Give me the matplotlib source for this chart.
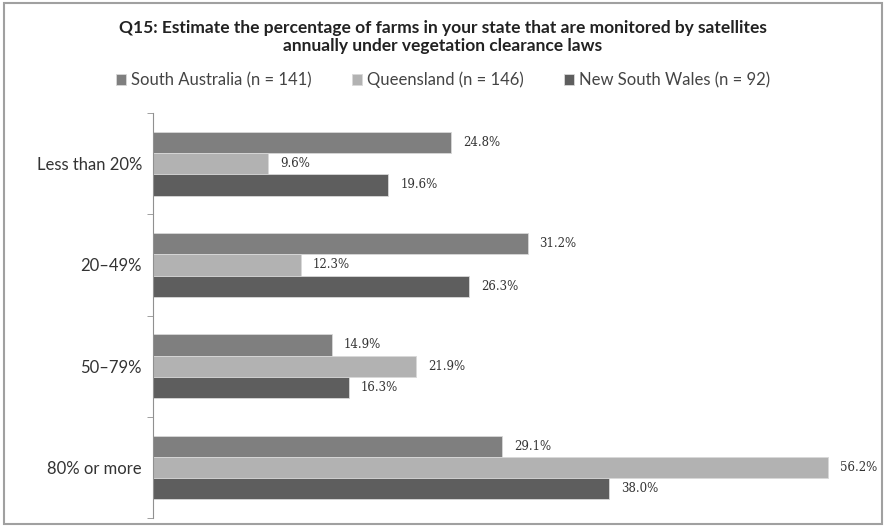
import matplotlib
matplotlib.use("Agg")
import matplotlib.pyplot as plt
import numpy as np
from matplotlib.patches import Rectangle

categories = ["Less than 20%", "20\u201349%", "50\u201379%", "80% or more"]
series_names = ["South Australia (n = 141)", "Queensland (n = 146)", "New South Wales (n = 92)"]
south_australia = [24.8, 31.2, 14.9, 29.1]
queensland = [9.6, 12.3, 21.9, 56.2]
new_south_wales = [19.6, 26.3, 16.3, 38.0]
colors = ["#7f7f7f", "#b2b2b2", "#5e5e5e"]

plt.rcParams["font.family"] = ["Lato", "DejaVu Sans"]

fig = plt.figure(figsize=(8.86, 5.26), dpi=100)
fig.patches.append(Rectangle((0.004, 0.004), 0.992, 0.99, transform=fig.transFigure,
                             fill=False, edgecolor="#a0a0a0", linewidth=1.5))
ax = fig.add_axes([0.1727, 0.015, 0.817, 0.77])

y = np.arange(len(categories))
h = 0.21
all_series = [south_australia, queensland, new_south_wales]
for i, (vals, name, c) in enumerate(zip(all_series, series_names, colors)):
    pos = y + (i - 1) * h
    bars = ax.barh(pos, vals, height=h, color=c, label=name,
                   edgecolor="#d8d8d8", linewidth=0.6)
    for b, v in zip(bars, vals):
        ax.text(b.get_width() + 1.0, b.get_y() + h / 2, f"{v:.1f}%",
                va="center", ha="left", fontsize=8.5, color="#333333",
                fontfamily="DejaVu Serif")

ax.set_xlim(0, 60.3)
ax.set_ylim(len(categories) - 0.5, -0.5)
ax.set_xticks([])
ax.set_yticks(y)
ax.set_yticklabels(categories, fontsize=12, color="#333333")
ax.tick_params(axis="y", which="major", length=0, pad=8)
ax.set_yticks(np.arange(-0.5, len(categories)), minor=True)
ax.tick_params(axis="y", which="minor", length=4, color="#909090")
for s in ["top", "right", "bottom"]:
    ax.spines[s].set_visible(False)
ax.spines["left"].set_color("#909090")

fig.text(0.5, 0.929, "Q15: Estimate the percentage of farms in your state that are monitored by satellites\nannually under vegetation clearance laws",
         ha="center", va="center", fontsize=12.5, fontweight="bold", color="#222222", linespacing=1.15)
fig.legend(loc="center", bbox_to_anchor=(0.5, 0.848), ncol=3, frameon=False,
           fontsize=12, handlelength=0.6, handleheight=0.6, columnspacing=2.4,
           handletextpad=0.3, labelcolor="#444444")

fig.savefig("out.png", dpi=100)
